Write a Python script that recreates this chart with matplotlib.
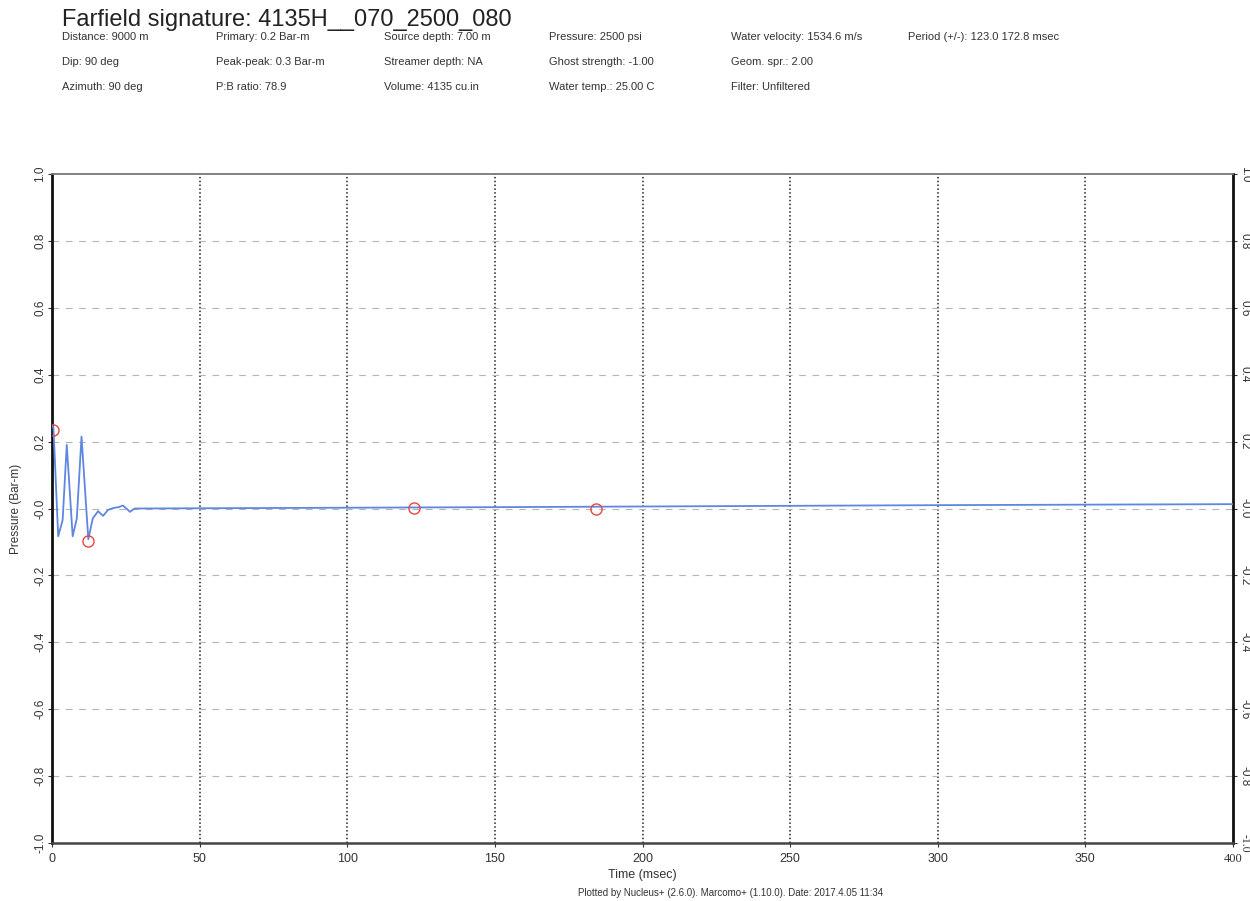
import numpy as np
import matplotlib.pyplot as plt
import matplotlib.ticker as ticker

plt.rcParams['font.family'] = ['Liberation Sans', 'DejaVu Sans']

# farfield signature trace (time in msec, pressure in Bar-m)
time_ms = [0.0, 0.5, 2.1, 3.6, 5.0, 7.0, 8.4, 10.0, 12.3, 13.8, 15.6, 17.3,
           19.0, 21.0, 22.6, 24.0, 25.2, 26.4, 28.0, 30.0, 60.0, 150.0,
           300.0, 400.0]
pressure = [0.25, 0.24, -0.083, -0.035, 0.19, -0.083, -0.03, 0.215, -0.092,
            -0.03, -0.008, -0.022, -0.004, 0.002, 0.004, 0.009, 0.0, -0.01,
            0.0, 0.0, 0.001, 0.004, 0.010, 0.013]

# picked events: primary peak, trough, bubble periods
pick_t = [0.5, 12.1, 122.6, 184.1]
pick_p = [0.235, -0.096, 0.002, -0.002]

title = 'Farfield signature: 4135H__070_2500_080'
info = [
    ['Distance: 9000 m', 'Dip: 90 deg', 'Azimuth: 90 deg'],
    ['Primary: 0.2 Bar-m', 'Peak-peak: 0.3 Bar-m', 'P:B ratio: 78.9'],
    ['Source depth: 7.00 m', 'Streamer depth: NA', 'Volume: 4135 cu.in'],
    ['Pressure: 2500 psi', 'Ghost strength: -1.00', 'Water temp.: 25.00 C'],
    ['Water velocity: 1534.6 m/s', 'Geom. spr.: 2.00', 'Filter: Unfiltered'],
    ['Period (+/-): 123.0 172.8 msec'],
]
footer = 'Plotted by Nucleus+ (2.6.0). Marcomo+ (1.10.0). Date: 2017.4.05 11:34'

W, H = 1250, 901
fig = plt.figure(figsize=(W / 100, H / 100), dpi=100)
ax = fig.add_axes([52 / W, 1 - 843 / H, (1233 - 52) / W, (843 - 174) / H])

ax.plot(time_ms, pressure, color='#5f86e0', lw=1.3, zorder=3)
ax.plot(pick_t, pick_p, 'o', mfc='none', mec='#e8453c', ms=8, mew=1.0,
        zorder=4)

ax.set_xlim(0, 400)
ax.set_ylim(-1.0, 1.0)
ax.set_xticks(np.arange(0, 401, 50))
yt = np.round(np.arange(-1.0, 1.01, 0.2), 1)
ax.set_yticks(yt)
ax.yaxis.set_major_formatter(ticker.FuncFormatter(
    lambda v, pos: '-0.0' if abs(v) < 1e-9 else '%.1f' % v))

# grid: dotted verticals, dashed light horizontals
for x in np.arange(50, 400, 50):
    ax.axvline(x, color='#222222', ls=(0, (1, 1.5)), lw=1.1, zorder=1)
for y in yt[1:-1]:
    ax.axhline(y, color='#b5b5b5', ls=(0, (6, 6)), lw=0.8, zorder=1)

for side in ['left', 'right']:
    ax.spines[side].set_linewidth(2.0)
    ax.spines[side].set_color('#111111')
ax.spines['bottom'].set_linewidth(1.8)
ax.spines['bottom'].set_color('#444444')
ax.spines['top'].set_linewidth(1.3)
ax.spines['top'].set_color('#777777')

ax.tick_params(axis='x', labelsize=9, colors='#333333', length=3, pad=4)
ax.tick_params(axis='y', labelsize=8.5, colors='#333333', length=3, pad=1,
               labelright=True, right=True)
for tl in ax.yaxis.get_major_ticks():
    tl.label1.set_rotation(90)
    tl.label1.set_va('center')
    tl.label2.set_rotation(270)
    tl.label2.set_va('center')
ax.yaxis.get_major_ticks()[0].label2.set_family('Liberation Serif')
ax.xaxis.get_major_ticks()[-1].label1.set_family('Liberation Serif')

ax.set_xlabel('Time (msec)', fontsize=9, color='#333333', labelpad=3)
ax.set_ylabel('Pressure (Bar-m)', fontsize=8.5, color='#333333', labelpad=9)

fig.text(62 / W, 1 - 20 / H, title, fontsize=17, color='#222222',
         va='center', ha='left')
col_x = [62, 216, 384, 549, 731, 908]
row_y = [37, 62, 87]
for cx, col in zip(col_x, info):
    for ry, s in zip(row_y, col):
        fig.text(cx / W, 1 - ry / H, s, fontsize=8, color='#333333',
                 va='center', ha='left')

fig.text(578 / W, 1 - 893 / H, footer, fontsize=7, color='#333333',
         va='center', ha='left')

fig.savefig('out.png', dpi=100)
